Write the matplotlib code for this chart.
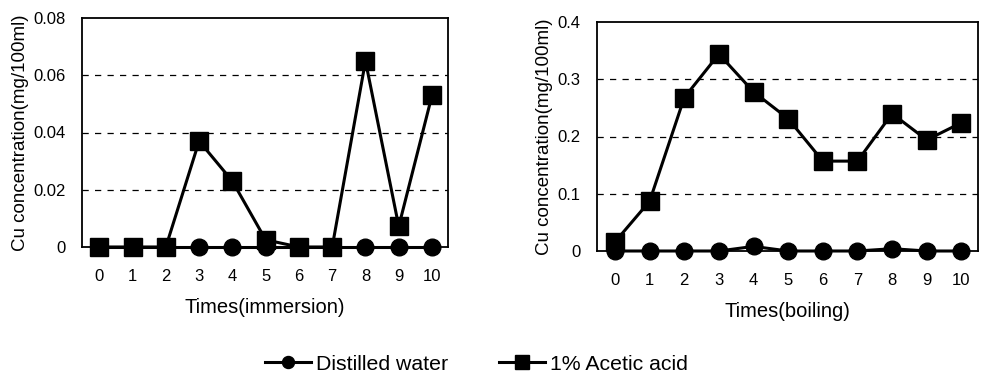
import matplotlib
matplotlib.use("Agg")
import matplotlib.pyplot as plt

plt.rcParams['font.family'] = ['Liberation Sans', 'DejaVu Sans']

times = list(range(11))
xticklabels = [str(t) for t in times]

# Left panel: immersion
imm_water = [0, 0, 0, 0, 0, 0, 0, 0, 0, 0, 0]
imm_acetic = [0, 0, 0, 0.037, 0.023, 0.0025, 0, 0, 0.065, 0.0072, 0.053]
imm_yticks = [0, 0.02, 0.04, 0.06, 0.08]
imm_yticklabels = ['0', '0.02', '0.04', '0.06', '0.08']

# Right panel: boiling
boil_water = [0, 0, 0, 0, 0.008, 0, 0, 0, 0.004, 0, 0]
boil_acetic = [0.016, 0.087, 0.268, 0.344, 0.278, 0.231, 0.157, 0.157, 0.240, 0.194, 0.224]
boil_yticks = [0, 0.1, 0.2, 0.3, 0.4]
boil_yticklabels = ['0', '0.1', '0.2', '0.3', '0.4']

fig = plt.figure(figsize=(9.82, 3.74), dpi=100)
ax1 = fig.add_axes([82/982, 1 - 247/374, (448-82)/982, (247-18)/374])
ax2 = fig.add_axes([597/982, 1 - 251/374, (978-597)/982, (251-22)/374])

def style(ax, water, acetic, yticks, yticklabels, ymax, xlabel):
    ax.plot(times, water, color='black', lw=2.2, marker='o', ms=12, label='Distilled water', zorder=3, clip_on=False)
    ax.plot(times, acetic, color='black', lw=2.2, marker='s', ms=13.5, label='1% Acetic acid', zorder=4, clip_on=False)
    ax.set_xlim(-0.52, 10.48)
    ax.set_ylim(0, ymax)
    ax.set_xticks(times)
    ax.set_xticklabels(xticklabels, fontsize=12)
    ax.set_yticks(yticks)
    ax.set_yticklabels(yticklabels, fontsize=12)
    ax.tick_params(axis='x', length=0, pad=16)
    ax.tick_params(axis='y', length=0, pad=12)
    for yv in yticks[1:-1]:
        ax.axhline(yv, color='black', lw=0.9, ls=(0, (5, 5)), zorder=1)
    for s in ax.spines.values():
        s.set_linewidth(1.3)
        s.set_color('black')
    ax.set_xlabel(xlabel, fontsize=14.5, labelpad=10)
    ax.set_ylabel('Cu concentration(mg/100ml)', fontsize=13.5, labelpad=3)

style(ax1, imm_water, imm_acetic, imm_yticks, imm_yticklabels, 0.08, 'Times(immersion)')
style(ax2, boil_water, boil_acetic, boil_yticks, boil_yticklabels, 0.4, 'Times(boiling)')

handles, labels = ax1.get_legend_handles_labels()
leg = fig.legend(handles, labels, loc='center', bbox_to_anchor=(476/982, 1 - 364/374), ncol=2,
                 frameon=False, fontsize=15.3, handlelength=2.2, columnspacing=2.4, markerscale=0.72,
                 handletextpad=0.2, borderpad=0.1)

fig.savefig('out.png', dpi=100)
